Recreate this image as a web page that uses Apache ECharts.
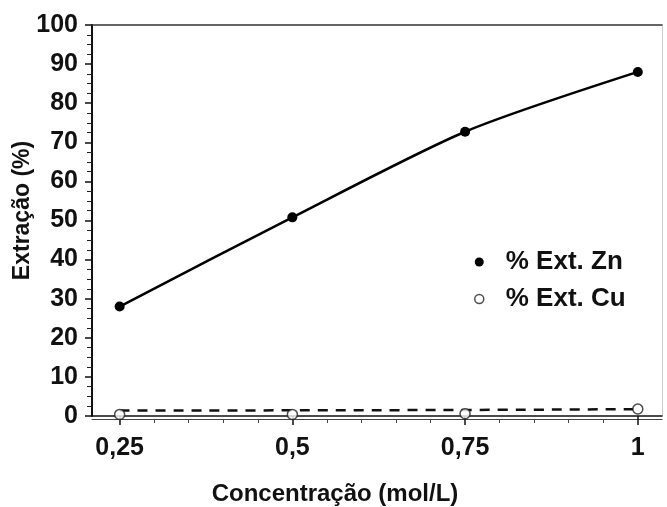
<!DOCTYPE html>
<html>
<head>
<meta charset="utf-8">
<script src="https://cdn.jsdelivr.net/npm/echarts@6/dist/echarts.min.js"></script>
<style>html,body{margin:0;padding:0;background:#fff;}#c{width:667px;height:507px;}</style>
</head>
<body>
<div id="c"></div>
<script>
var concentrations = [0.25, 0.5, 0.75, 1];
var znExtraction = [28.0, 50.8, 72.7, 88.0];
var cuExtraction = [0.4, 0.4, 0.6, 1.8];
var cuTrend = [1.4, 1.45, 1.55, 1.75];
var xTickValues = [0.25, 0.5, 0.75, 1];
var xMinorTickValues = [0.3, 0.35, 0.4, 0.45, 0.55, 0.6, 0.65, 0.7, 0.8, 0.85, 0.9, 0.95];
var yTickLabels = ['0','10','20','30','40','50','60','70','80','90','100'];

function pairs(xs, ys){ return xs.map(function(x,i){ return [x, ys[i]]; }); }

var FONT = '"Liberation Sans", Arial, sans-serif';
var chart = echarts.init(document.getElementById('c'), null, {renderer:'canvas'});
chart.setOption({
  animation: false,
  backgroundColor: '#fff',
  grid: {left: 92, top: 25, right: 5, bottom: 91, containLabel: false, outerBoundsMode: 'none'},
  xAxis: [{
    type: 'value', min: 0.21, max: 1.035, position: 'bottom',
    axisLine: {show: true, onZero: false, lineStyle: {color: '#111', width: 1.5}},
    axisTick: {show: true, customValues: xTickValues, length: 9, inside: false, lineStyle: {color: '#111', width: 1.5}},
    axisLabel: {show: true, customValues: xTickValues, margin: 20, fontFamily: FONT, fontWeight: 'bold', fontSize: 25, color: '#111',
      formatter: function(v){ return String(v).replace('.', ','); }},
    splitLine: {show: false},
    name: 'Concentração (mol/L)', nameLocation: 'middle', nameGap: 66, nameMoveOverlap: false,
    nameTextStyle: {fontFamily: FONT, fontWeight: 'bold', fontSize: 24, color: '#111', padding: [0, 84, 0, 0]}
  }, {
    type: 'value', min: 0.21, max: 1.035, position: 'bottom', offset: 3,
    axisLine: {show: true, onZero: false, lineStyle: {color: '#444', width: 1}},
    axisTick: {show: true, customValues: xMinorTickValues, length: 4, inside: false, lineStyle: {color: '#444', width: 1}},
    axisLabel: {show: false},
    splitLine: {show: false}
  }, {
    type: 'value', min: 0.21, max: 1.035, position: 'top',
    axisLine: {show: true, onZero: false, lineStyle: {color: '#333', width: 1.5}},
    axisTick: {show: false}, axisLabel: {show: false}, splitLine: {show: false}
  }],
  yAxis: [{
    type: 'value', min: 0, max: 100, interval: 10, position: 'left',
    axisLine: {show: true, onZero: false, lineStyle: {color: '#111', width: 2}},
    axisTick: {show: true, length: 7, inside: false, lineStyle: {color: '#111', width: 1.5}},
    minorTick: {show: true, splitNumber: 4, length: 5, lineStyle: {color: '#222', width: 1}},
    axisLabel: {margin: 14, fontFamily: FONT, fontWeight: 'bold', fontSize: 25, color: '#111',
      formatter: function(v){ return yTickLabels[Math.round(v/10)]; }},
    splitLine: {show: false},
    name: 'Extração (%)', nameLocation: 'middle', nameRotate: 90, nameGap: 58, nameMoveOverlap: false,
    nameTextStyle: {fontFamily: FONT, fontWeight: 'bold', fontSize: 23, color: '#111', padding: [0, 0, 0, 20]}
  }, {
    type: 'value', min: 0, max: 100, position: 'right',
    axisLine: {show: true, onZero: false, lineStyle: {color: '#ccc', width: 1}},
    axisTick: {show: false}, axisLabel: {show: false}, splitLine: {show: false}
  }],
  legend: {
    show: true, orient: 'vertical', left: 469, top: 244, itemWidth: 9, itemHeight: 9, itemGap: 11,
    textStyle: {fontFamily: FONT, fontWeight: 'bold', fontSize: 26, color: '#111', padding: [0,0,0,17]},
    data: [
      {name: '% Ext. Zn', icon: 'circle', itemStyle: {color: '#000'}},
      {name: '% Ext. Cu', icon: 'circle', itemStyle: {color: '#fff', borderColor: '#222', borderWidth: 1.5}}
    ]
  },
  series: [{
    name: '% Ext. Zn', type: 'line', smooth: 0.25, data: pairs(concentrations, znExtraction),
    symbol: 'circle', symbolSize: 10, showSymbol: true,
    lineStyle: {color: '#000', width: 2.5}, itemStyle: {color: '#000'}, z: 3
  }, {
    name: 'Cu trend', type: 'line', smooth: true, data: pairs(concentrations, cuTrend),
    symbol: 'none', lineStyle: {color: '#111', width: 2.5, type: [10, 8]}, z: 2
  }, {
    name: '% Ext. Cu', type: 'scatter', data: pairs(concentrations, cuExtraction),
    symbol: 'circle', symbolSize: 10,
    itemStyle: {color: '#fff', borderColor: '#222', borderWidth: 1.5}, z: 4
  }]
});
</script>
</body>
</html>
